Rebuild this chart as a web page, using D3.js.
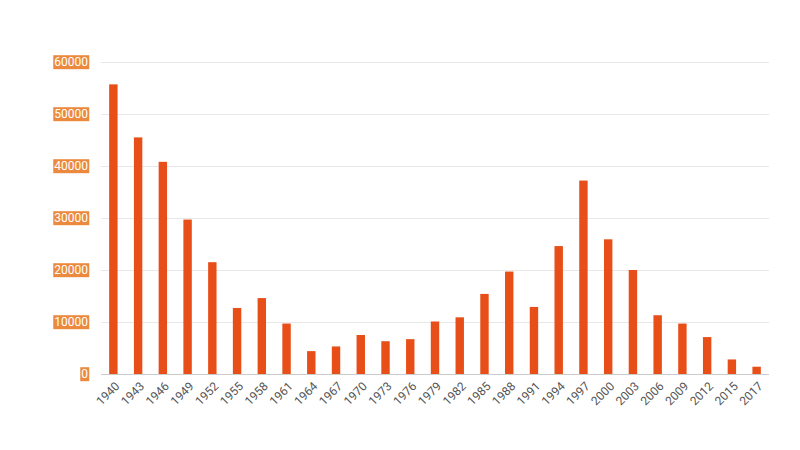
<!DOCTYPE html>
<html><head><meta charset="utf-8">
<script src="https://cdn.jsdelivr.net/npm/d3@7"></script>
<style>body{margin:0;background:#fff;font-family:Roboto,"DejaVu Sans",sans-serif}</style>
</head><body><svg id="c" width="800" height="450"></svg>
<script>
var years = ['1940','1943','1946','1949','1952','1955','1958','1961','1964','1967','1970','1973','1976','1979','1982','1985','1988','1991','1994','1997','2000','2003','2006','2009','2012','2015','2017'];
var values = [55700,45500,40800,29700,21500,12700,14600,9700,4400,5300,7500,6300,6700,10100,10900,15400,19700,12900,24600,37200,25900,20000,11300,9700,7100,2800,1400];
var yTicks = [0,10000,20000,30000,40000,50000,60000];

var svg = d3.select('#c');
var x = d3.scaleBand().domain(years).range([101, 769]).paddingInner(0.66).paddingOuter(0.33);
var y = d3.scaleLinear().domain([0, 60000]).range([374, 62]);

// grid
svg.append('g').selectAll('line').data(yTicks).join('line')
  .attr('x1', 101).attr('x2', 769)
  .attr('y1', function(d) { return y(d) + 0.5; }).attr('y2', function(d) { return y(d) + 0.5; })
  .attr('stroke', function(d) { return d === 0 ? '#ccc' : '#e8e8e8'; });

// y labels with orange boxes
var yl = svg.append('g').selectAll('g').data(yTicks).join('g')
  .attr('transform', function(d) { return 'translate(88,' + y(d) + ')'; });
yl.append('text').attr('text-anchor', 'end').attr('dy', '0.35em')
  .attr('fill', '#fff').attr('font-size', 12).text(function(d) { return d; })
  .each(function() {
    var b = this.getBBox();
    d3.select(this.parentNode).insert('rect', 'text')
      .attr('x', b.x - 1).attr('y', b.y).attr('width', b.width + 2).attr('height', b.height)
      .attr('fill', '#eb8a3e');
  });

svg.append('g').selectAll('rect').data(values).join('rect')
  .attr('x', function(d, i) { return x(years[i]); })
  .attr('width', x.bandwidth())
  .attr('y', function(d) { return y(d); })
  .attr('height', function(d) { return y(0) - y(d); })
  .attr('fill', '#e84e17');

svg.append('g').selectAll('text').data(years).join('text')
  .attr('transform', function(d) { return 'translate(' + (x(d) + x.bandwidth() / 2 + 4) + ',384) rotate(-45)'; })
  .attr('text-anchor', 'end').attr('dy', '0.35em')
  .attr('font-size', 12).attr('fill', '#555').text(function(d) { return d; });
</script></body></html>
